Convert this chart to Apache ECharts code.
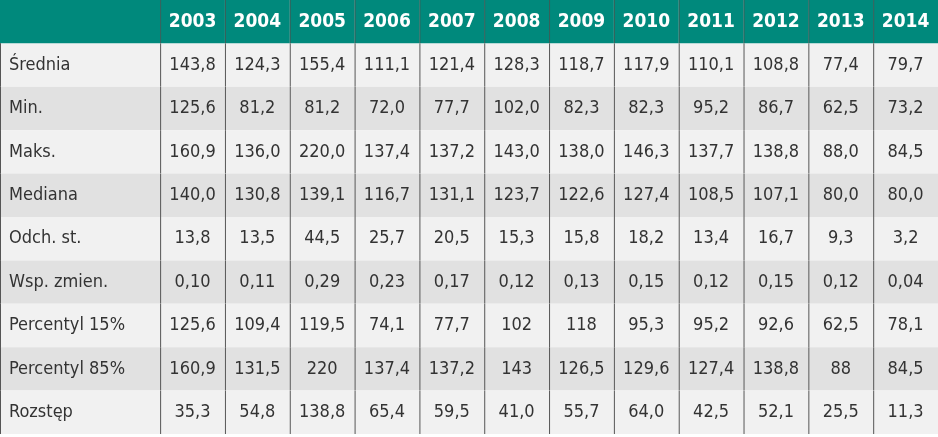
<!DOCTYPE html>
<html><head><meta charset="utf-8">
<script src="https://cdn.jsdelivr.net/npm/echarts@6/dist/echarts.min.js"></script>
<style>html,body{margin:0;padding:0;background:#fff}#c{width:938px;height:437px}</style>
</head><body><div id="c"></div>
<script>
const years = ['2003','2004','2005','2006','2007','2008','2009','2010','2011','2012','2013','2014'];
const rowLabels = ['Średnia','Min.','Maks.','Mediana','Odch. st.','Wsp. zmien.','Percentyl 15%','Percentyl 85%','Rozstęp'];
const srednia = ['143,8','124,3','155,4','111,1','121,4','128,3','118,7','117,9','110,1','108,8','77,4','79,7'];
const minV = ['125,6','81,2','81,2','72,0','77,7','102,0','82,3','82,3','95,2','86,7','62,5','73,2'];
const maksV = ['160,9','136,0','220,0','137,4','137,2','143,0','138,0','146,3','137,7','138,8','88,0','84,5'];
const mediana = ['140,0','130,8','139,1','116,7','131,1','123,7','122,6','127,4','108,5','107,1','80,0','80,0'];
const odch = ['13,8','13,5','44,5','25,7','20,5','15,3','15,8','18,2','13,4','16,7','9,3','3,2'];
const wsp = ['0,10','0,11','0,29','0,23','0,17','0,12','0,13','0,15','0,12','0,15','0,12','0,04'];
const p15 = ['125,6','109,4','119,5','74,1','77,7','102','118','95,3','95,2','92,6','62,5','78,1'];
const p85 = ['160,9','131,5','220','137,4','137,2','143','126,5','129,6','127,4','138,8','88','84,5'];
const rozstep = ['35,3','54,8','138,8','65,4','59,5','41,0','55,7','64,0','42,5','52,1','25,5','11,3'];
const rows = [srednia,minV,maksV,mediana,odch,wsp,p15,p85,rozstep];

const LW = 2.47; // label column width in column units
const FONT = '"Liberation Sans Narrow","DejaVu Sans Condensed",sans-serif';
const data = [];
// header
data.push([0, 0, '', 'h', -1]);
years.forEach((y,i)=>data.push([LW+i, 0, y, 'h', i]));
rows.forEach((r,ri)=>{
  data.push([0, ri+1, rowLabels[ri], 'l', -1]);
  r.forEach((v,i)=>data.push([LW+i, ri+1, v, 'c', i]));
});
const chart = echarts.init(document.getElementById('c'));
chart.setOption({
  animation:false,
  grid:{left:0,right:0,top:0,bottom:3},
  xAxis:{type:'value',min:0,max:LW+years.length,show:false},
  yAxis:{type:'value',min:0,max:rows.length+1,inverse:true,show:false},
  series:[{type:'custom',data:data,renderItem:function(params,api){
    const x=api.value(0), y=api.value(1), kind=api.value(3);
    const w = kind==='h'&&api.value(4)<0 || kind==='l' ? LW : 1;
    const p0=api.coord([x,y]), p1=api.coord([x+w,y+1]);
    const rw=p1[0]-p0[0], rh=p1[1]-p0[1];
    const fill = kind==='h' ? '#00897c' : (y%2===1 ? '#f1f1f1' : '#e1e1e1');
    const children=[{type:'rect',shape:{x:p0[0],y:p0[1],width:rw,height:rh},style:{fill:fill}}];
    if(!(kind==='h'&&api.value(4)<0)){
      children.push({type:'line',shape:{x1:p0[0]+0.5,y1:p0[1],x2:p0[0]+0.5,y2:p1[1]},style:{stroke:kind==='h'?'#3a5f5a':'#555',lineWidth:1}});
    }
    if(kind==='l') children.push({type:'line',shape:{x1:p0[0]+0.5,y1:p0[1],x2:p0[0]+0.5,y2:p1[1]},style:{stroke:'#555',lineWidth:1}});
    const txt=api.value(2);
    children.push({type:'text',style:{
      x: kind==='l' ? p0[0]+9 : p0[0]+rw/2, y:p0[1]+rh/2,
      text: String(txt), align: kind==='l'?'left':'center', verticalAlign:'middle',
      fill: kind==='h'?'#ffffff':'#333333',
      font: (kind==='h'?'bold 19px ':'18px ')+FONT}});
    return {type:'group',children:children};
  }}]
});
</script></body></html>
